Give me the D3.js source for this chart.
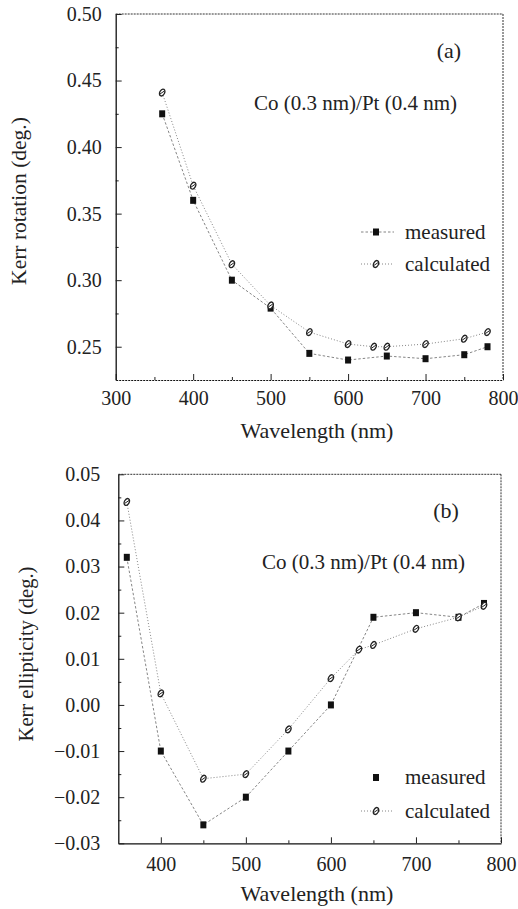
<!DOCTYPE html>
<html>
<head>
<meta charset="utf-8">
<script src="https://cdn.jsdelivr.net/npm/d3@7"></script>
<style>
body { margin: 0; background: #fff; }
text { font-family: "Liberation Serif", "Times New Roman", serif; fill: #222; }
</style>
</head>
<body>
<svg id="chart" width="518" height="909"></svg>
<script>
// panel (a): Kerr rotation
const wlMeasA = [360, 400, 450, 500, 550, 600, 650, 700, 750, 780]
const measA = [0.425, 0.360, 0.300, 0.279, 0.245, 0.240, 0.243, 0.241, 0.244, 0.250]
const wlCalcA = [360, 400, 450, 500, 550, 600, 633, 650, 700, 750, 780]
const calcA = [0.441, 0.371, 0.312, 0.281, 0.261, 0.252, 0.250, 0.250, 0.252, 0.256, 0.261]
const xTicksA = [300, 400, 500, 600, 700, 800]
const xMinorA = [350, 450, 550, 650, 750]
const yTicksA = [0.25, 0.30, 0.35, 0.40, 0.45, 0.50]
const yMinorA = [0.275, 0.325, 0.375, 0.425, 0.475]

// panel (b): Kerr ellipticity
const wlMeasB = [360, 400, 450, 500, 550, 600, 650, 700, 750, 780]
const measB = [0.032, -0.010, -0.026, -0.020, -0.010, 0.000, 0.019, 0.020, 0.019, 0.022]
const wlCalcB = [360, 400, 450, 500, 550, 600, 633, 650, 700, 750, 780]
const calcB = [0.044, 0.0025, -0.016, -0.015, -0.0053, 0.0058, 0.012, 0.013, 0.0165, 0.019, 0.0215]
const xTicksB = [400, 500, 600, 700, 800]
const xMinorB = [450, 550, 650, 750]
const yTicksB = [-0.03, -0.02, -0.01, 0.00, 0.01, 0.02, 0.03, 0.04, 0.05]
const yMinorB = [-0.025, -0.015, -0.005, 0.005, 0.015, 0.025, 0.035, 0.045]

const sampleLabel = "Co (0.3 nm)/Pt (0.4 nm)"
const legendNames = ["measured", "calculated"]

const svg = d3.select("#chart")

function drawPanel(p){
    let x = d3.scaleLinear().domain(p.xDomain).range([p.left, p.right])
    let y = d3.scaleLinear().domain(p.yDomain).range([p.bottom, p.top])
    let g = svg.append("g")

    // frame: top and right look dotted in the scan
    g.append("line").attr("x1", p.left).attr("x2", p.right).attr("y1", p.top).attr("y2", p.top)
        .attr("stroke", "#333").attr("stroke-width", 1).attr("stroke-dasharray", "2,1")
    g.append("line").attr("x1", p.right).attr("x2", p.right).attr("y1", p.top).attr("y2", p.bottom)
        .attr("stroke", "#333").attr("stroke-width", 1).attr("stroke-dasharray", "2,1")

    // minor ticks
    g.append("g").attr("transform", `translate(0,${p.bottom})`)
        .call(d3.axisBottom(x).tickValues(p.xMinor).tickSize(-3).tickFormat(""))
        .call(a => a.select(".domain").remove())
    g.append("g").attr("transform", `translate(${p.left},0)`)
        .call(d3.axisLeft(y).tickValues(p.yMinor).tickSize(-3).tickFormat(""))
        .call(a => a.select(".domain").remove())

    // major axes
    let xa = g.append("g").attr("transform", `translate(0,${p.bottom})`)
        .call(d3.axisBottom(x).tickValues(p.xTicks).tickSize(-6).tickSizeOuter(0).tickPadding(p.xPad))
    let ya = g.append("g").attr("transform", `translate(${p.left},0)`)
        .call(d3.axisLeft(y).tickValues(p.yTicks).tickSize(-6).tickSizeOuter(0).tickPadding(p.yPad).tickFormat(d3.format(".2f")))
    for (const a of [xa, ya]){
        a.attr("font-family", null).attr("font-size", null)
        a.select(".domain").attr("stroke", "#111").attr("stroke-width", 1.3)
        a.selectAll("text").style("font-size", "20px").attr("fill", "#222")
    }
    if (p.dottedBottom) xa.select(".domain").attr("stroke-dasharray", "2,1").attr("stroke-width", 1.1)
    g.selectAll(".tick line").attr("stroke", "#222")

    // lines
    let line = d3.line().x(d => x(d[0])).y(d => y(d[1]))
    let measPts = d3.zip(p.wlMeas, p.meas)
    let calcPts = d3.zip(p.wlCalc, p.calc)
    g.append("path").attr("d", line(measPts)).attr("fill", "none")
        .attr("stroke", "#777").attr("stroke-width", 0.9).attr("stroke-dasharray", "2.5,2")
    g.append("path").attr("d", line(calcPts)).attr("fill", "none")
        .attr("stroke", "#777").attr("stroke-width", 0.9).attr("stroke-dasharray", "1,2")

    // markers
    g.selectAll(".meas").data(measPts).join("rect").attr("class", "meas")
        .attr("x", d => x(d[0]) - 3).attr("y", d => y(d[1]) - 3.5)
        .attr("width", 6).attr("height", 7).attr("fill", "#111")
    let cm = g.selectAll(".calc").data(calcPts).join("g").attr("class", "calc")
        .attr("transform", d => `translate(${x(d[0])},${y(d[1])})`)
    calcMarker(cm)

    // legend
    let lg = svg.append("g")
    legendNames.forEach((name, i) => {
        let ly = p.legendY[i]
        if (p.legendLines[i]){
            lg.append("line").attr("x1", 361).attr("x2", 394).attr("y1", ly).attr("y2", ly)
                .attr("stroke", "#777").attr("stroke-width", 0.9).attr("stroke-dasharray", i == 0 ? "2.5,2" : "1,2")
        }
        if (i == 0){
            lg.append("rect").attr("x", 373).attr("y", ly - 3.5).attr("width", 6).attr("height", 7).attr("fill", "#111")
        } else {
            calcMarker(lg.append("g").attr("transform", `translate(376,${ly})`))
        }
        lg.append("text").attr("x", 405).attr("y", ly + 6.5).text(name).style("font-size", "21px")
    })

    // annotations
    svg.append("text").attr("x", p.tagX).attr("y", p.tagY).attr("text-anchor", "middle")
        .text(p.tag).style("font-size", "22px")
    svg.append("text").attr("x", p.sampleX).attr("y", p.sampleY)
        .text(sampleLabel).style("font-size", "21px")
    svg.append("text").attr("transform", `translate(${p.yLabelX},${p.yLabelY}) rotate(-90)`)
        .attr("text-anchor", "middle").text(p.yLabel).style("font-size", p.yLabelSize)
    svg.append("text").attr("x", 317).attr("y", p.xLabelY).attr("text-anchor", "middle")
        .text("Wavelength (nm)").style("font-size", "22px")
}

function calcMarker(sel){
    sel.append("ellipse").attr("rx", 2.4).attr("ry", 3.6).attr("transform", "rotate(30)")
        .attr("fill", "#fff").attr("stroke", "#222").attr("stroke-width", 1.3)
    sel.append("line").attr("x1", -2.2).attr("y1", 1.5).attr("x2", 2.2).attr("y2", -1.5)
        .attr("stroke", "#222").attr("stroke-width", 1)
}

drawPanel({
    left: 115.7, right: 503, top: 14, bottom: 380,
    xDomain: [300, 800], yDomain: [0.225, 0.50],
    xTicks: xTicksA, xMinor: xMinorA, yTicks: yTicksA, yMinor: yMinorA,
    xPad: 11, yPad: 14, dottedBottom: true,
    wlMeas: wlMeasA, meas: measA, wlCalc: wlCalcA, calc: calcA,
    legendY: [232, 264], legendLines: [true, true],
    tag: "(a)", tagX: 449, tagY: 58,
    sampleX: 254, sampleY: 110,
    yLabel: "Kerr rotation (deg.)", yLabelX: 26, yLabelY: 201, yLabelSize: "21.5px",
    xLabelY: 438
})

drawPanel({
    left: 118.3, right: 501, top: 474.3, bottom: 843.3,
    xDomain: [350, 800], yDomain: [-0.03, 0.05],
    xTicks: xTicksB, xMinor: xMinorB, yTicks: yTicksB, yMinor: yMinorB,
    xPad: 14, yPad: 18, dottedBottom: false,
    wlMeas: wlMeasB, meas: measB, wlCalc: wlCalcB, calc: calcB,
    legendY: [777.5, 811], legendLines: [false, true],
    tag: "(b)", tagX: 446, tagY: 518,
    sampleX: 262, sampleY: 569,
    yLabel: "Kerr ellipticity (deg.)", yLabelX: 33, yLabelY: 654, yLabelSize: "20.5px",
    xLabelY: 901
})
</script>
</body>
</html>
